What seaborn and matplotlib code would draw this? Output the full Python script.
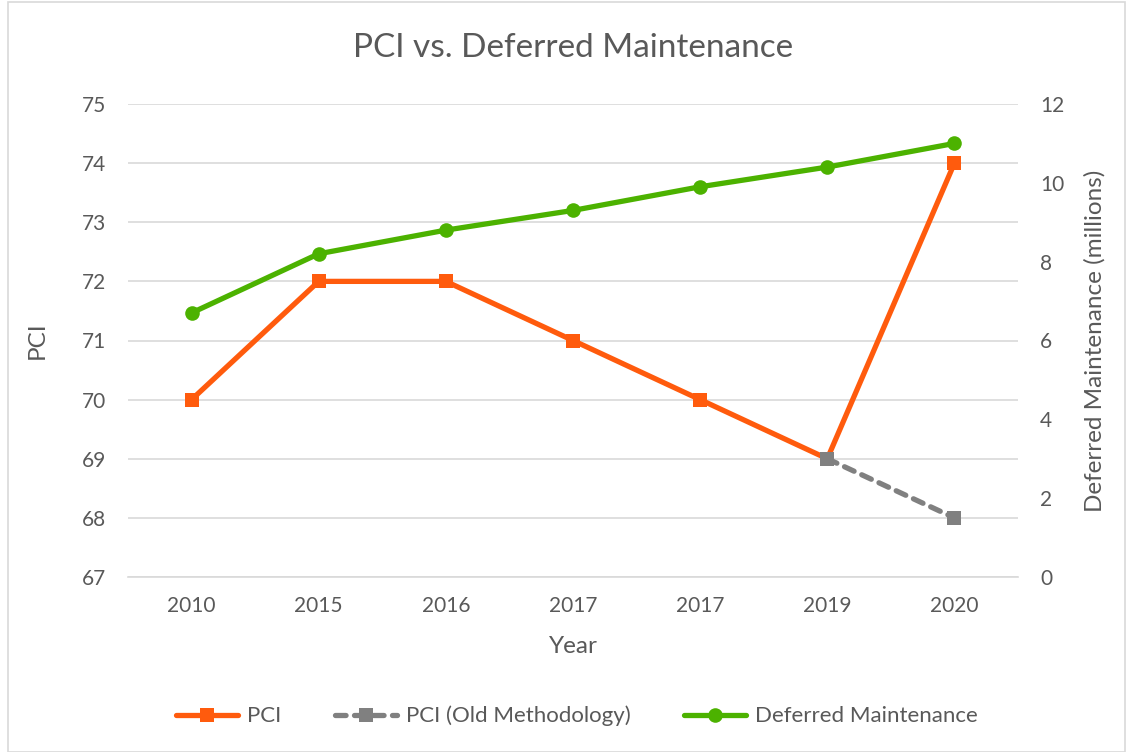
import seaborn as sns
import matplotlib.pyplot as plt
from matplotlib.patches import Rectangle

# chart data
years = ["2010", "2015", "2016", "2017", "2017", "2019", "2020"]
pci = [70, 72, 72, 71, 70, 69, 74]
old_years_idx = [5, 6]
pci_old = [69, 68]
deferred = [6.7, 8.2, 8.8, 9.3, 9.9, 10.4, 11.0]

ORANGE = "#FF5B0D"
GRAY = "#808080"
GREEN = "#4CB200"
TXT = "#595959"
GRID = "#D9D9D9"

sns.set_style("white")
plt.rcParams['font.family'] = ['Lato', 'DejaVu Sans']

fig = plt.figure(figsize=(11.29, 7.52), dpi=100)
ax = fig.add_axes([128 / 1129, 1 - 577 / 752, 890 / 1129, 473 / 752])
ax2 = ax.twinx()

idx = list(range(len(years)))

sns.lineplot(x=idx, y=pci, ax=ax, color=ORANGE, lw=3.8, marker="s",
             markersize=10.5, markeredgewidth=0, label="PCI", zorder=3)
sns.lineplot(x=old_years_idx, y=pci_old, ax=ax, color=GRAY, lw=3.8,
             marker="s", markersize=10.5, markeredgewidth=0,
             linestyle=(0, (2, 1.6)), dash_capstyle="round",
             label="PCI (Old Methodology)", zorder=4)
sns.lineplot(x=idx, y=deferred, ax=ax2, color=GREEN, lw=3.8, marker="o",
             markersize=10.5, markeredgewidth=0, label="Deferred Maintenance",
             zorder=5)

ax.set_xlim(-0.5, 6.5)
ax.set_ylim(67, 75)
ax.set_yticks(range(67, 76))
ax2.set_ylim(0, 12)
ax2.set_yticks(range(0, 13, 2))

ax.set_xticks(idx)
ax.set_xticklabels(years)
ax.set_xticks([i - 0.5 for i in range(8)], minor=True)
ax.tick_params(axis="x", which="major", length=0, pad=14, labelsize=15, labelcolor=TXT)
ax.tick_params(axis="x", which="minor", length=8, width=1, color=GRID)
ax.tick_params(axis="y", length=0, pad=16, labelsize=15, labelcolor=TXT)
ax2.tick_params(axis="y", length=0, pad=16, labelsize=15, labelcolor=TXT)

ax.yaxis.grid(True, color=GRID, lw=1.2)
ax.set_axisbelow(True)
for a in (ax, ax2):
    for s in ("top", "left", "right", "bottom"):
        a.spines[s].set_visible(False)
ax.spines["bottom"].set_visible(True)
ax.spines["bottom"].set_color(GRID)
ax.spines["bottom"].set_linewidth(1.2)

ax.set_xlabel("Year", fontsize=17.5, color=TXT, labelpad=14)
ax.set_ylabel("PCI", fontsize=17.5, color=TXT, labelpad=24)
ax2.set_ylabel("Deferred Maintenance (millions)", fontsize=17.5, color=TXT, labelpad=14)

fig.text(573 / 1129, 1 - 48 / 752, "PCI vs. Deferred Maintenance",
         ha="center", va="center", fontsize=24, color=TXT)

h1, l1 = ax.get_legend_handles_labels()
h2, l2 = ax2.get_legend_handles_labels()
ax.get_legend().remove()
ax2.get_legend().remove()
fig.legend(h1 + h2, l1 + l2, loc="center", bbox_to_anchor=(577 / 1129, 1 - 716 / 752),
           ncol=3, frameon=False, fontsize=16, labelcolor=TXT,
           handlelength=2.8, columnspacing=2.4, handletextpad=0.4)

fig.patches.append(Rectangle((8 / 1129, 0), 1 - 12 / 1129, 1 - 2 / 752,
                             transform=fig.transFigure, fill=False,
                             edgecolor=GRID, lw=1.2))

plt.savefig("out.png", dpi=100)
plt.close()
